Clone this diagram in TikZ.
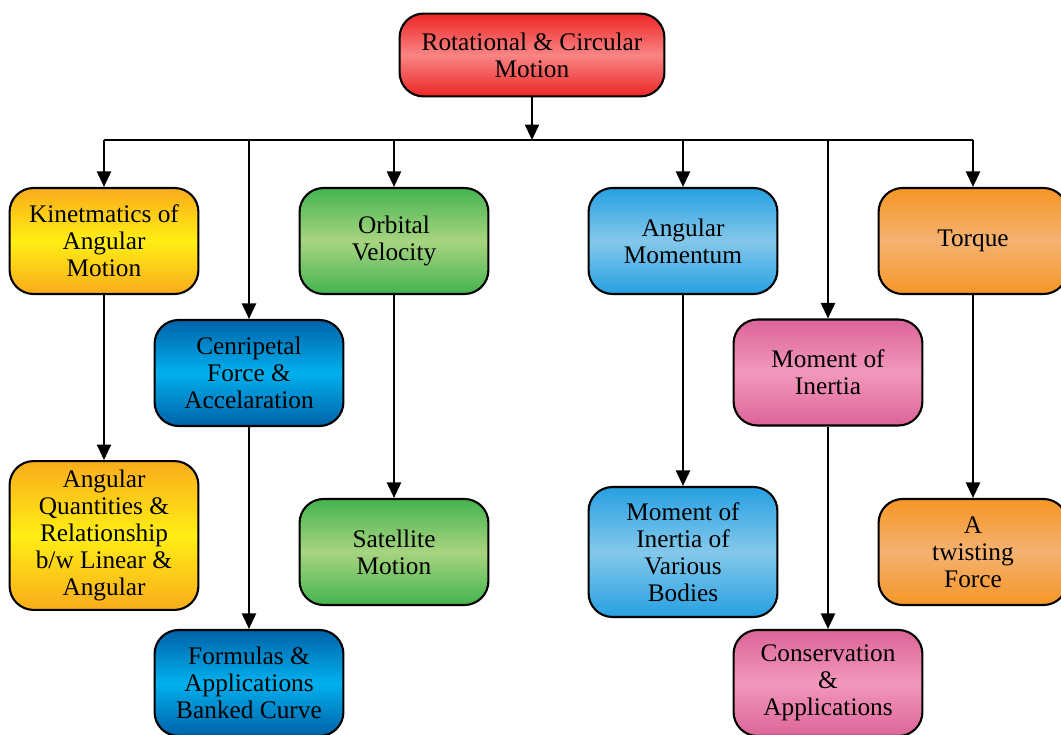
\documentclass[tikz,border=0pt]{standalone}
\usepackage{fontspec}
\setmainfont{Liberation Serif}
\usetikzlibrary{arrows.meta}

\definecolor{redD}{RGB}{237,38,38}
\definecolor{redL}{RGB}{249,132,132}
\definecolor{yelD}{RGB}{250,172,28}
\definecolor{yelL}{RGB}{255,238,20}
\definecolor{grnD}{RGB}{68,180,80}
\definecolor{grnL}{RGB}{168,212,128}
\definecolor{dblD}{RGB}{0,98,168}
\definecolor{dblL}{RGB}{0,176,238}
\definecolor{lblD}{RGB}{38,160,226}
\definecolor{lblL}{RGB}{132,200,234}
\definecolor{orgD}{RGB}{246,150,38}
\definecolor{orgL}{RGB}{244,178,112}
\definecolor{pnkD}{RGB}{220,100,152}
\definecolor{pnkL}{RGB}{242,152,188}

\tikzset{
  box/.style={draw=black, line width=1.5pt, rounded corners=0.6cm, align=center,
    minimum width=4.72cm, minimum height=2.65cm, inner sep=2pt,
    font=\rmfamily\fontsize{18}{19.3}\selectfont},
  redbox/.style={box, top color=redD, bottom color=redD, middle color=redL},
  yelbox/.style={box, top color=yelD, bottom color=yelD, middle color=yelL},
  grnbox/.style={box, top color=grnD, bottom color=grnD, middle color=grnL},
  dblbox/.style={box, top color=dblD, bottom color=dblD, middle color=dblL},
  lblbox/.style={box, top color=lblD, bottom color=lblD, middle color=lblL},
  orgbox/.style={box, top color=orgD, bottom color=orgD, middle color=orgL},
  pnkbox/.style={box, top color=pnkD, bottom color=pnkD, middle color=pnkL},
  link/.style={-{Triangle[length=11pt,width=10pt]}, line width=1.5pt},
}

\begin{document}
\begin{tikzpicture}[x=0.025cm,y=-0.025cm]
\useasboundingbox (0,0) rectangle (1061,735);

% root
\node[redbox, minimum width=6.62cm, minimum height=2.07cm] (root) at (532,55) {Rotational \& Circular\\Motion};
\coordinate (bus) at (532,140);

% first level
\node[yelbox] (kin)  at (104,241) {Kinetmatics of\\Angular\\Motion};
\node[dblbox] (cen)  at (249,373) {Cenripetal\\Force \&\\Accelaration};
\node[grnbox] (orb)  at (394,241) {Orbital\\Velocity};
\node[lblbox] (angm) at (683,241) {Angular\\Momentum};
\node[pnkbox] (moi)  at (828,372.5) {Moment of\\Inertia};
\node[orgbox] (tor)  at (973,241) {Torque};

% second level
\node[yelbox, minimum height=3.72cm] (angq) at (104,535.5) {Angular\\Quantities \&\\Relationship\\b/w Linear \&\\Angular};
\node[dblbox] (form) at (249,683) {Formulas \&\\Applications\\Banked Curve};
\node[grnbox] (sat)  at (394,552) {Satellite\\Motion};
\node[lblbox, minimum height=3.25cm] (var) at (683,552) {Moment of\\Inertia of\\Various\\Bodies};
\node[pnkbox] (cons) at (828,683) {Conservation\\\&\\Applications};
\node[orgbox] (twi)  at (973,552) {A\\twisting\\Force};

% connectors
\draw[link] (root) -- (bus);
\draw[line width=1.5pt] (kin.north |- bus) -- (tor.north |- bus);
\foreach \n in {kin,cen,orb,angm,moi,tor}
  \draw[link] (\n.north |- bus) -- (\n.north);
\draw[link] (kin) -- (angq);
\draw[link] (cen) -- (form);
\draw[link] (orb) -- (sat);
\draw[link] (angm) -- (var);
\draw[link] (moi) -- (cons);
\draw[link] (tor) -- (twi);
\end{tikzpicture}
\end{document}
